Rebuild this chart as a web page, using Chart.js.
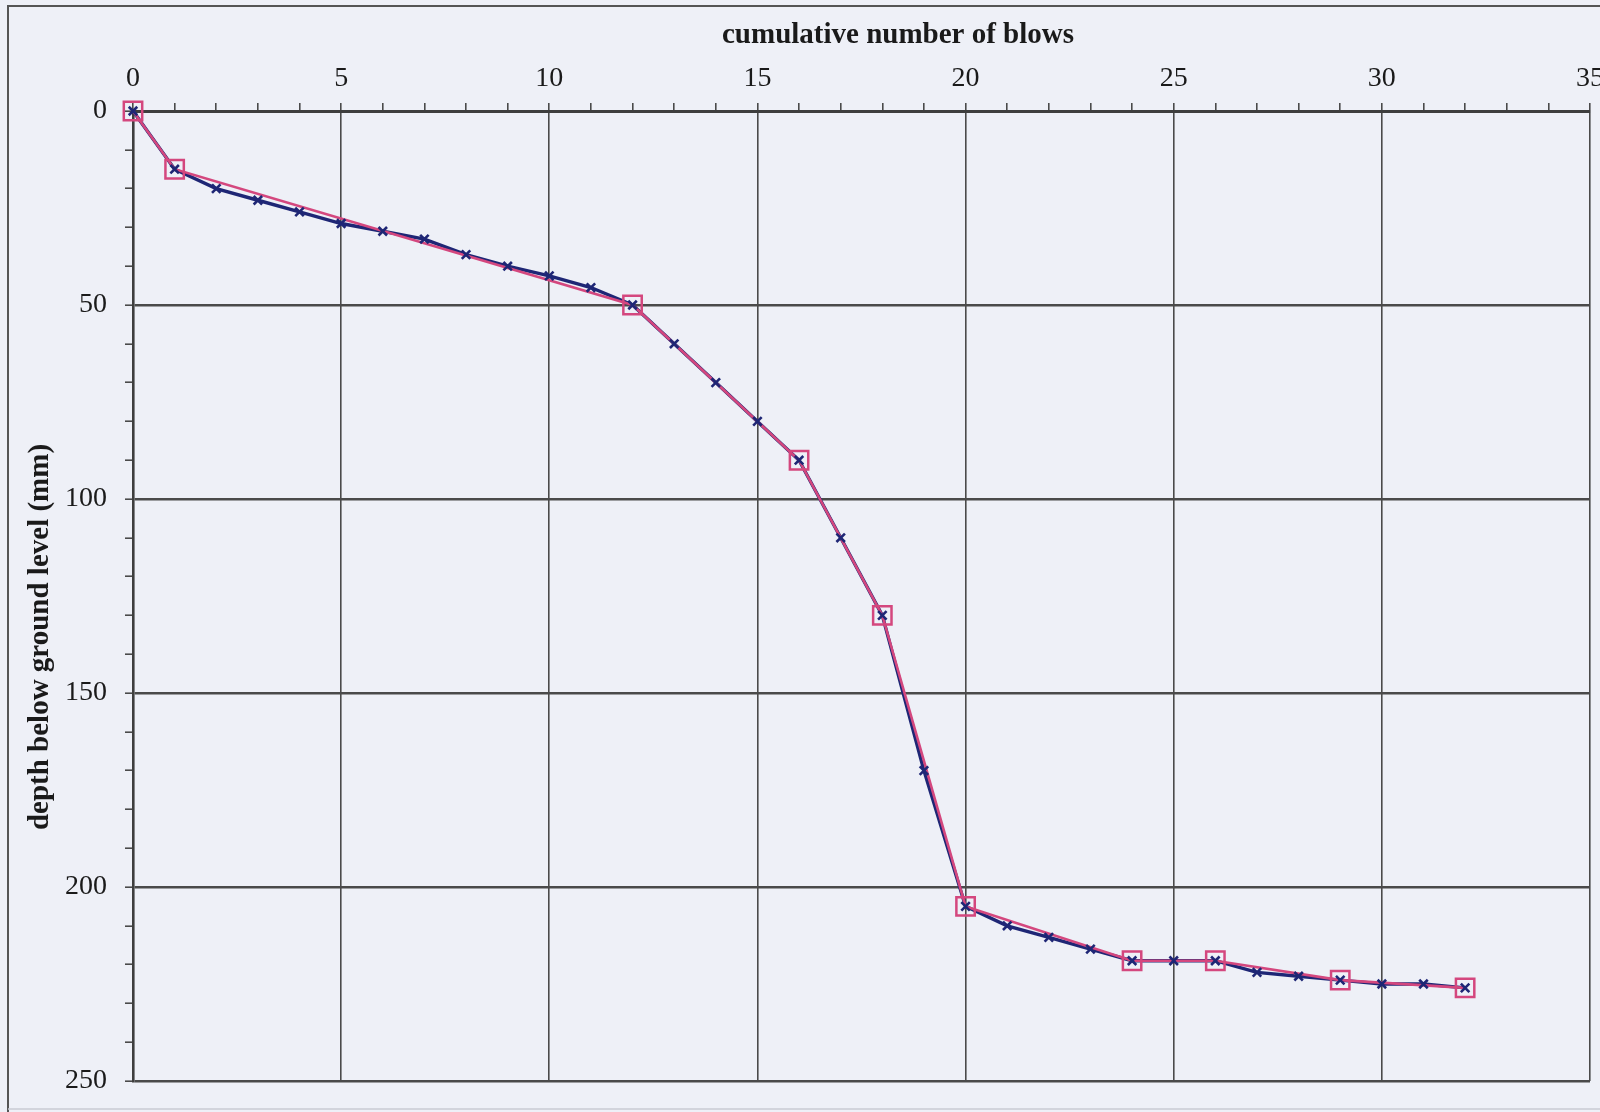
<!DOCTYPE html>
<html>
<head>
<meta charset="utf-8">
<script src="https://cdn.jsdelivr.net/npm/chart.js@4"></script>
<style>
  html, body { margin: 0; padding: 0; background: #eef0f7; }
  #wrap { width: 1600px; height: 1112px; }
</style>
</head>
<body>
<div id="wrap"><canvas id="c" width="1600" height="1112"></canvas></div>
<script>
// ---- data ----
const blows = [0,1,2,3,4,5,6,7,8,9,10,11,12,13,14,15,16,17,18,19,20,21,22,23,24,25,26,27,28,29,30,31,32];
const depthAll = [0,15,20,23,26,29,31,33,37,40,42.5,45.5,50,60,70,80,90,110,130,170,205,210,213,216,219,219,219,222,223,224,225,225,226];
const blowsSel = [0,1,12,16,18,20,24,26,29,32];
const depthSel = [0,15,50,90,130,205,219,219,224,226];
const xTitle = 'cumulative number of blows';
const yTitle = 'depth below ground level (mm)';
const xMax = 35, yMax = 250;

const ptsAll = blows.map((b, i) => ({x: b, y: depthAll[i]}));
const ptsSel = blowsSel.map((b, i) => ({x: b, y: depthSel[i]}));

const NAVY = '#1e2675';
const PINK = '#d4477e';
const GRID = '#4a4a4a';
const FONT = "'Liberation Serif', 'DejaVu Serif', serif";

// markers may overflow the plot edge without shrinking the plot area
Chart.ScatterController.prototype.getMaxOverflow = function () { return 0; };

const framePlugin = {
  id: 'frame',
  beforeDraw(chart) {
    const ctx = chart.ctx;
    ctx.save();
    ctx.fillStyle = '#eef0f7';
    ctx.fillRect(0, 0, chart.width, chart.height);
    ctx.strokeStyle = '#555';
    ctx.lineWidth = 2;
    ctx.beginPath();
    ctx.moveTo(8, 1112);
    ctx.lineTo(8, 6);
    ctx.lineTo(1600, 6);
    ctx.stroke();
    ctx.strokeStyle = '#c9cbd3';
    ctx.lineWidth = 1.5;
    ctx.beginPath();
    ctx.moveTo(8, 1109);
    ctx.lineTo(1600, 1109);
    ctx.stroke();
    ctx.restore();
  },
  afterDraw(chart) {
    const ctx = chart.ctx;
    ctx.save();
    ctx.fillStyle = '#1a1a1a';
    ctx.font = 'bold 29px ' + FONT;
    ctx.textAlign = 'center';
    ctx.textBaseline = 'middle';
    ctx.fillText(xTitle, 898, 36);
    ctx.translate(41, 637);
    ctx.rotate(-Math.PI / 2);
    ctx.fillText(yTitle, 0, 0);
    ctx.restore();
  }
};

new Chart(document.getElementById('c'), {
  type: 'scatter',
  data: {
    datasets: [
      { // blue markers on top
        data: ptsAll,
        showLine: false,
        clip: false,
        pointStyle: 'crossRot',
        pointRadius: 6,
        pointBorderWidth: 2.6,
        pointBorderColor: NAVY,
        pointBackgroundColor: NAVY
      },
      { // pink subset with squares
        data: ptsSel,
        showLine: true,
        clip: false,
        borderColor: PINK,
        borderWidth: 2.6,
        tension: 0,
        pointStyle: 'rect',
        pointRadius: 13,
        pointBorderWidth: 2.5,
        pointBorderColor: PINK,
        pointBackgroundColor: 'rgba(0,0,0,0)'
      },
      { // blue line
        data: ptsAll,
        showLine: true,
        clip: false,
        borderColor: NAVY,
        borderWidth: 3.4,
        tension: 0,
        pointRadius: 0
      }
    ]
  },
  options: {
    responsive: false,
    animation: false,
    events: [],
    layout: { padding: { left: 0, top: 0, right: 10, bottom: 31 } },
    plugins: { legend: { display: false }, tooltip: { enabled: false }, title: { display: false } },
    scales: {
      x: {
        type: 'linear',
        position: 'top',
        min: 0, max: xMax,
        afterFit(s) { s.height = 111; s.paddingLeft = 0; s.paddingRight = 0; },
        ticks: {
          stepSize: 1,
          autoSkip: false,
          maxRotation: 0,
          padding: 8,
          color: '#1a1a1a',
          font: { family: FONT, size: 28 },
          callback: v => (v % 5 === 0 ? String(v) : '')
        },
        grid: {
          drawTicks: true,
          tickLength: 8,
          lineWidth: 1.6,
          color: c => (c.tick && c.tick.value % 5 === 0 ? GRID : 'rgba(0,0,0,0)'),
          tickColor: GRID,
          tickWidth: 1.6
        },
        border: { display: true, color: '#3e3e3e', width: 3 }
      },
      y: {
        type: 'linear',
        reverse: true,
        min: 0, max: yMax,
        afterFit(s) { s.width = 133; s.paddingTop = 0; s.paddingBottom = 0; },
        ticks: {
          stepSize: 10,
          autoSkip: false,
          padding: 18,
          color: '#1a1a1a',
          font: { family: FONT, size: 28 },
          callback: v => (v % 50 === 0 ? String(v) : '')
        },
        grid: {
          drawTicks: true,
          tickLength: 8,
          lineWidth: 2.4,
          color: c => (c.tick && c.tick.value % 50 === 0 ? GRID : 'rgba(0,0,0,0)'),
          tickColor: GRID,
          tickWidth: 1.6
        },
        border: { display: true, color: '#3e3e3e', width: 2.6 }
      }
    }
  },
  plugins: [framePlugin]
});
</script>
</body>
</html>
